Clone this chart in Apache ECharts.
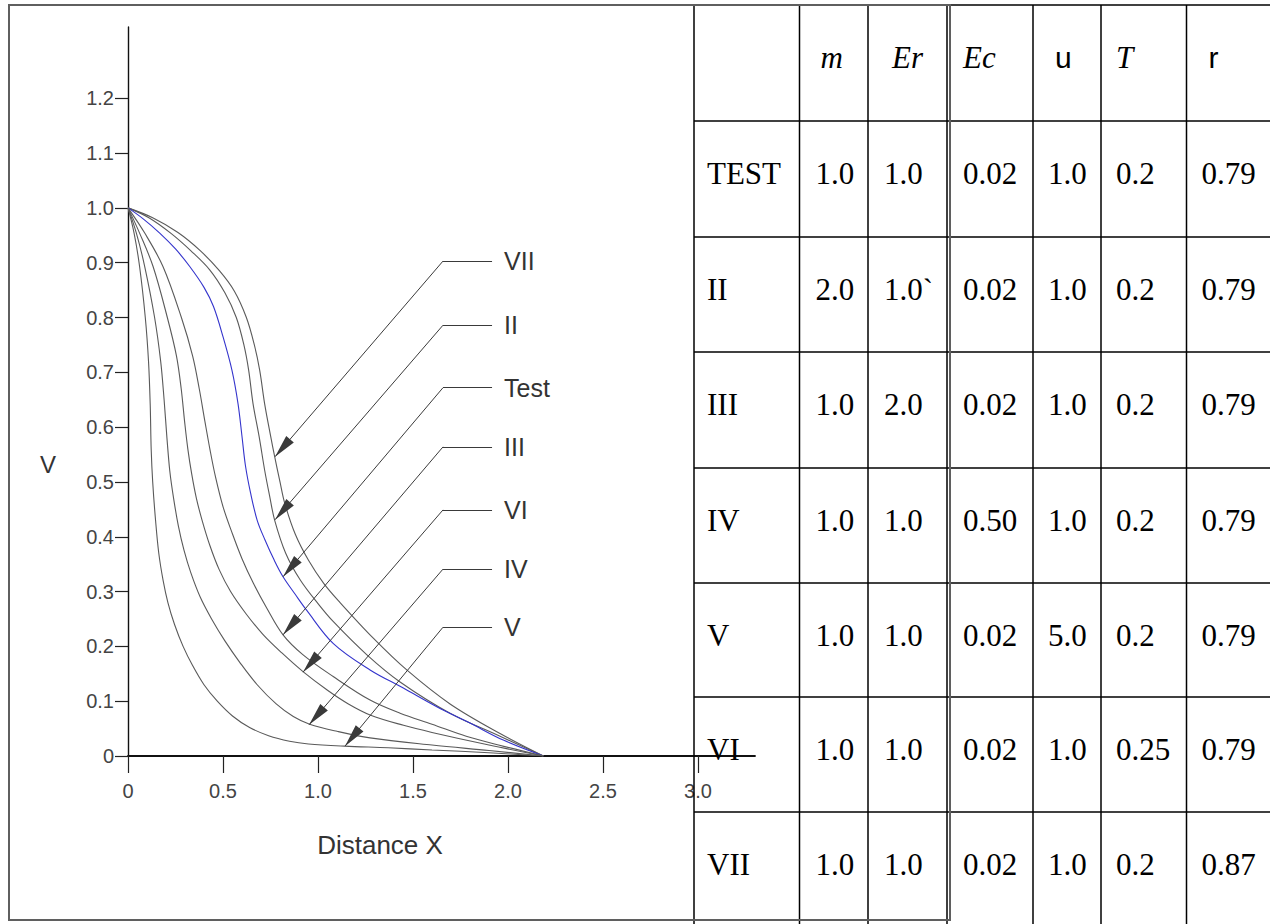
<!DOCTYPE html>
<html>
<head>
<meta charset="utf-8">
<script src="https://cdn.jsdelivr.net/npm/echarts@6/dist/echarts.min.js"></script>
<style>
html,body{margin:0;padding:0;background:#fff;}
#chart{width:1270px;height:924px;}
</style>
</head>
<body>
<div id="chart"></div>
<script>
// ---------- chart data ----------
const xTicks = [0, 0.5, 1.0, 1.5, 2.0, 2.5, 3.0];
const yTicks = [0, 0.1, 0.2, 0.3, 0.4, 0.5, 0.6, 0.7, 0.8, 0.9, 1.0, 1.1, 1.2];

const curveVII = [[0,1],[0.13,0.982],[0.263,0.955],[0.38,0.922],[0.482,0.885],[0.56,0.848],[0.623,0.80],[0.665,0.75],[0.693,0.704],[0.719,0.643],[0.751,0.583],[0.772,0.546],[0.80,0.50],[0.825,0.461],[0.88,0.405],[0.95,0.357],[1.03,0.315],[1.116,0.28],[1.291,0.215],[1.467,0.157],[1.695,0.095],[1.958,0.041],[2.186,0]];
const curveII = [[0,1],[0.11,0.982],[0.228,0.953],[0.33,0.922],[0.43,0.887],[0.51,0.845],[0.57,0.80],[0.61,0.75],[0.635,0.704],[0.658,0.643],[0.69,0.583],[0.72,0.52],[0.745,0.475],[0.772,0.43],[0.83,0.37],[0.905,0.322],[1.0,0.278],[1.081,0.245],[1.256,0.185],[1.432,0.135],[1.695,0.078],[1.958,0.036],[2.186,0]];
const curveTest = [[0,1],[0.08,0.98],[0.167,0.954],[0.25,0.925],[0.325,0.893],[0.40,0.855],[0.45,0.82],[0.50,0.765],[0.547,0.704],[0.579,0.643],[0.60,0.583],[0.618,0.53],[0.645,0.48],[0.68,0.43],[0.72,0.395],[0.77,0.357],[0.816,0.327],[0.88,0.295],[0.94,0.266],[1.081,0.205],[1.274,0.157],[1.449,0.124],[1.625,0.09],[1.80,0.06],[1.975,0.029],[2.186,0]];
const curveIII = [[0,1],[0.088,0.954],[0.184,0.893],[0.281,0.80],[0.34,0.73],[0.375,0.67],[0.405,0.61],[0.432,0.558],[0.46,0.51],[0.50,0.455],[0.55,0.405],[0.60,0.36],[0.66,0.315],[0.73,0.27],[0.816,0.221],[0.92,0.185],[1.08,0.145],[1.274,0.102],[1.432,0.078],[1.6,0.058],[1.78,0.036],[1.95,0.02],[2.186,0]];
const curveVI = [[0,1],[0.061,0.954],[0.132,0.893],[0.207,0.80],[0.255,0.73],[0.28,0.67],[0.298,0.61],[0.315,0.56],[0.335,0.515],[0.36,0.47],[0.39,0.43],[0.43,0.385],[0.48,0.34],[0.54,0.30],[0.62,0.26],[0.71,0.222],[0.81,0.188],[0.921,0.154],[1.05,0.12],[1.16,0.095],[1.274,0.075],[1.45,0.056],[1.6,0.043],[1.9,0.02],[2.186,0]];
const curveIV = [[0,1],[0.044,0.954],[0.088,0.893],[0.14,0.80],[0.172,0.72],[0.19,0.65],[0.205,0.58],[0.22,0.52],[0.24,0.47],[0.265,0.42],[0.295,0.375],[0.33,0.335],[0.38,0.29],[0.44,0.25],[0.51,0.21],[0.59,0.17],[0.68,0.13],[0.78,0.095],[0.87,0.072],[0.956,0.058],[1.10,0.045],[1.274,0.033],[1.6,0.02],[1.9,0.01],[2.186,0]];
const curveV = [[0,1],[0.032,0.954],[0.061,0.893],[0.091,0.80],[0.108,0.72],[0.117,0.64],[0.122,0.56],[0.13,0.50],[0.145,0.43],[0.162,0.37],[0.185,0.32],[0.21,0.28],[0.245,0.24],[0.29,0.20],[0.34,0.165],[0.40,0.13],[0.47,0.10],[0.55,0.073],[0.64,0.052],[0.74,0.037],[0.85,0.027],[0.95,0.022],[1.14,0.018],[1.37,0.015],[1.6,0.011],[1.9,0.006],[2.186,0]];

// annotation call-outs: label, arrow tip (x, V), label level (V)
const annoNames  = ['VII', 'II', 'Test', 'III', 'VI', 'IV', 'V'];
const annoTips   = [[0.774,0.546],[0.774,0.431],[0.816,0.327],[0.816,0.221],[0.921,0.153],[0.953,0.057],[1.142,0.018]];
const annoLevels = [0.903, 0.786, 0.672, 0.564, 0.449, 0.341, 0.235];

// parameter table
const tableHeader = ['', 'm', 'Er', 'Ec', 'u', 'T', 'r'];
const rowNames = ['TEST', 'II', 'III', 'IV', 'V', 'VI', 'VII'];
const colM  = ['1.0', '2.0', '1.0', '1.0', '1.0', '1.0', '1.0'];
const colEr = ['1.0', '1.0`', '2.0', '1.0', '1.0', '1.0', '1.0'];
const colEc = ['0.02', '0.02', '0.02', '0.50', '0.02', '0.02', '0.02'];
const colU  = ['1.0', '1.0', '1.0', '1.0', '5.0', '1.0', '1.0'];
const colT  = ['0.2', '0.2', '0.2', '0.2', '0.2', '0.25', '0.2'];
const colR  = ['0.79', '0.79', '0.79', '0.79', '0.79', '0.79', '0.87'];

// ---------- layout / style ----------
const SANS = "'Liberation Sans', Arial, sans-serif";
const SERIF = "'Liberation Serif', 'Times New Roman', serif";
const annoStartX = 1.658, annoEndX = 1.916;
const colX = [694, 799.5, 868, 947, 1033, 1101, 1186.5, 1272];
const rowY = [5, 121, 237, 352, 468, 583, 697, 812, 928];
const headPad = [0, 21, 24, 16, 22, 15, 22];
const cellPad = [13, 16, 16, 16, 15, 15, 15];
const headItalic = [false, true, true, true, false, true, false];

const chart = echarts.init(document.getElementById('chart'), null, {renderer: 'svg'});

const curves = [
  ['VII', curveVII, '#5a5a5a'],
  ['II', curveII, '#5a5a5a'],
  ['Test', curveTest, '#3434cc'],
  ['III', curveIII, '#5a5a5a'],
  ['VI', curveVI, '#5a5a5a'],
  ['IV', curveIV, '#5a5a5a'],
  ['V', curveV, '#5a5a5a']
];

const curveSeries = curves.map(([name, data, color]) => ({
  type: 'line', name, data, symbol: 'none', smooth: 0.35, silent: true,
  lineStyle: {color, width: 1.1}, z: 3
}));

const leaderData = annoNames.map((n, i) => ({name: n, coords: [[annoStartX, annoLevels[i]], annoTips[i]]}));
const shelfData = annoNames.map((n, i) => ({name: n, coords: [[annoStartX, annoLevels[i]], [annoEndX, annoLevels[i]]]}));

// arrow head with its tip at the symbol centre (top half left empty)
const ARROW = 'path://M-0.01,0L0.01,0L0,0.01Z M0,23L5,46L-5,46Z';

// table graphics
const g = [];
const cols = [rowNames, colM, colEr, colEc, colU, colT, colR];
for (let c = 0; c < 7; c++) {
  if (tableHeader[c]) {
    g.push({type: 'text', x: colX[c] + headPad[c], y: rowY[0] + 52, z: 1,
      style: {text: tableHeader[c], fill: '#000', verticalAlign: 'middle', align: 'left',
        font: headItalic[c] ? ('italic 31px ' + SERIF) : ('30px ' + SANS)}});
  }
  for (let r = 0; r < rowNames.length; r++) {
    g.push({type: 'text', x: colX[c] + cellPad[c], y: rowY[r + 1] + 52, z: 1,
      style: {text: cols[c][r], fill: '#000', verticalAlign: 'middle', align: 'left', font: '31px ' + SERIF}});
  }
}
for (let c = 0; c < 7; c++) {
  g.push({type: 'line', z: 1, shape: {x1: colX[c], y1: rowY[0], x2: colX[c], y2: 924},
    style: {stroke: '#000', lineWidth: 1.5}});
}
for (let r = 0; r < 8; r++) {
  g.push({type: 'line', z: 1, shape: {x1: colX[0], y1: rowY[r], x2: 1270, y2: rowY[r]},
    style: {stroke: '#000', lineWidth: 1.5}});
}
// outer frame of the plot panel
g.push({type: 'rect', z: 2, shape: {x: 9, y: 5, width: 941, height: 915},
  style: {fill: 'none', stroke: '#5f5f5f', lineWidth: 2}});

const fmt = v => (v === 0 ? '0' : v.toFixed(1));

chart.setOption({
  animation: false,
  backgroundColor: '#fff',
  title: {text: 'V', left: 35, top: 447, textStyle: {fontSize: 24, fontWeight: 'normal', color: '#333', fontFamily: SANS}},
  grid: {left: 128, top: 27, width: 627, height: 729, containLabel: false, outerBoundsMode: 'none'},
  xAxis: {
    type: 'value', min: 0, max: 3.3, interval: 0.5,
    name: 'Distance X', nameLocation: 'middle', nameGap: 76, nameMoveOverlap: false,
    nameTextStyle: {fontSize: 26, color: '#333', fontFamily: SANS, padding: [0, 123, 0, 0]},
    axisLine: {show: true, onZero: true, lineStyle: {color: '#111', width: 1.8}},
    axisTick: {show: true, customValues: xTicks, length: 17, lineStyle: {color: '#222', width: 1.2}},
    axisLabel: {show: true, customValues: xTicks, formatter: fmt, margin: 25, fontSize: 20, color: '#444', fontFamily: SANS},
    splitLine: {show: false}
  },
  yAxis: {
    type: 'value', min: 0, max: 1.33, interval: 0.1,
    axisLine: {show: true, lineStyle: {color: '#111', width: 1.4}},
    axisTick: {show: true, customValues: yTicks, length: 13, lineStyle: {color: '#222', width: 1.2}},
    axisLabel: {show: true, customValues: yTicks, formatter: fmt, margin: 14, fontSize: 20, color: '#444', fontFamily: SANS},
    splitLine: {show: false}
  },
  graphic: {elements: g},
  series: curveSeries.concat([
    {
      type: 'lines', name: 'leaders', coordinateSystem: 'cartesian2d', silent: true, z: 4,
      symbol: ['none', ARROW], symbolSize: [1, [10, 46]],
      lineStyle: {color: '#3a3a3a', width: 1, opacity: 1, curveness: 0},
      itemStyle: {color: '#000'},
      label: {show: false},
      data: leaderData
    },
    {
      type: 'lines', name: 'shelves', coordinateSystem: 'cartesian2d', silent: true, z: 4,
      symbol: ['none', 'none'],
      lineStyle: {color: '#3a3a3a', width: 1.2, opacity: 1, curveness: 0},
      label: {show: true, position: 'end', distance: 12, formatter: '{b}', fontSize: 25, color: '#333', fontFamily: SANS},
      data: shelfData
    }
  ])
});
</script>
</body>
</html>
